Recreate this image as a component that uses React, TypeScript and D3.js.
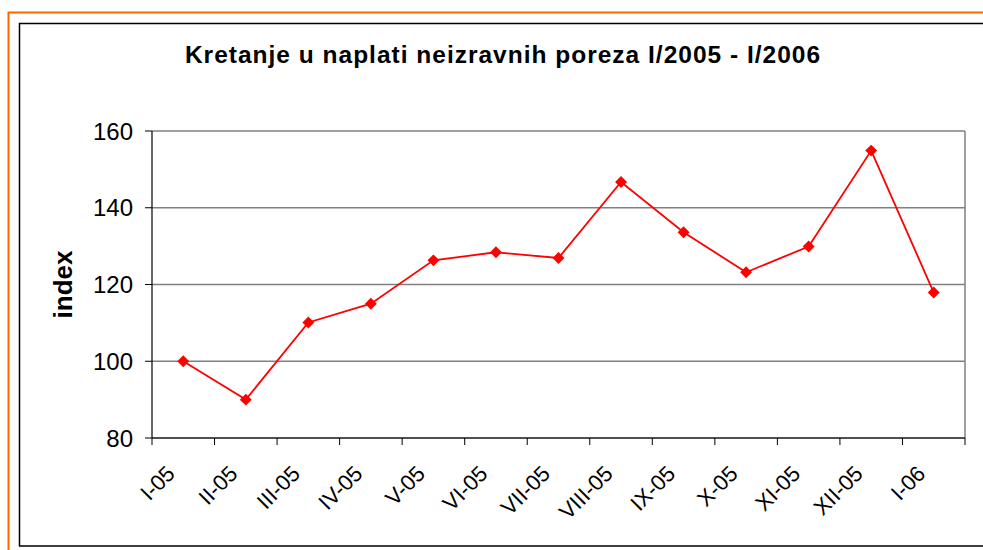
import * as d3 from 'd3'

const MONTHS = ['I-05', 'II-05', 'III-05', 'IV-05', 'V-05', 'VI-05', 'VII-05', 'VIII-05', 'IX-05', 'X-05', 'XI-05', 'XII-05', 'I-06']
const INDEX = [100, 90, 110.1, 115, 126.3, 128.4, 126.9, 146.7, 133.6, 123.2, 129.9, 154.9, 117.9]
const Y_TICKS = [80, 100, 120, 140, 160]

const W = 983
const H = 550
const plot = { left: 152, top: 131, right: 965, bottom: 438 }

export default function App() {
  const x = d3.scaleBand().domain(MONTHS).range([plot.left, plot.right])
  const y = d3.scaleLinear().domain([80, 160]).range([plot.bottom, plot.top])
  const cx = (m: string) => (x(m) ?? 0) + x.bandwidth() / 2

  const line = d3
    .line<number>()
    .x((_, i) => cx(MONTHS[i]))
    .y((d) => y(d))

  const diamond = d3.symbol().type(d3.symbolDiamond2).size(90)()

  const font = 'Arial, "Liberation Sans", sans-serif'

  return (
    <svg
      width={W}
      height={H}
      style={{ position: 'absolute', left: 0, top: 0, fontFamily: font }}
    >
      <rect x={0} y={0} width={W} height={H} fill="white" />
      {/* outer orange frame and inner black chart frame */}
      <rect x={8.5} y={12.5} width={1000} height={600} fill="none" stroke="#ff6600" strokeWidth={2} />
      <rect x={19.5} y={23.5} width={1000} height={522.5} fill="none" stroke="#000" strokeWidth={1.5} />

      <text
        x={503}
        y={63}
        textAnchor="middle"
        fontSize={24.5}
        fontWeight="bold"
        letterSpacing={1}
      >
        Kretanje u naplati neizravnih poreza I/2005 - I/2006
      </text>

      {/* grid */}
      {Y_TICKS.map((t) => (
        <line key={t} x1={plot.left} x2={plot.right} y1={y(t)} y2={y(t)} stroke="#808080" strokeWidth={1.5} />
      ))}
      <line x1={plot.right} x2={plot.right} y1={plot.top} y2={plot.bottom} stroke="#808080" strokeWidth={1.5} />

      {/* axes */}
      <line x1={plot.left} x2={plot.left} y1={plot.top} y2={plot.bottom} stroke="#000" strokeWidth={1.2} />
      <line x1={plot.left} x2={plot.right} y1={plot.bottom} y2={plot.bottom} stroke="#000" strokeWidth={1.2} />
      {Y_TICKS.map((t) => (
        <g key={t}>
          <line x1={plot.left - 7} x2={plot.left} y1={y(t)} y2={y(t)} stroke="#000" strokeWidth={1} />
          <text x={plot.left - 19} y={y(t)} dy="0.36em" textAnchor="end" fontSize={24}>
            {t}
          </text>
        </g>
      ))}
      {MONTHS.concat(['']).map((m, i) => {
        const xx = plot.left + i * x.step()
        return <line key={i} x1={xx} x2={xx} y1={plot.bottom} y2={plot.bottom + 7} stroke="#000" strokeWidth={1} />
      })}
      {MONTHS.map((m) => (
        <text
          key={m}
          transform={`translate(${cx(m) - 7},${plot.bottom + 37}) rotate(-45)`}
          textAnchor="end"
          fontSize={22}
        >
          {m}
        </text>
      ))}

      <text
        transform={`translate(72,${(plot.top + plot.bottom) / 2}) rotate(-90)`}
        textAnchor="middle"
        fontSize={26}
        fontWeight="bold"
      >
        index
      </text>

      {/* series */}
      <path d={line(INDEX) ?? undefined} fill="none" stroke="#ff0000" strokeWidth={1.8} />
      {INDEX.map((v, i) => (
        <path key={i} d={diamond ?? undefined} transform={`translate(${cx(MONTHS[i])},${y(v)})`} fill="#ff0000" />
      ))}
    </svg>
  )
}
